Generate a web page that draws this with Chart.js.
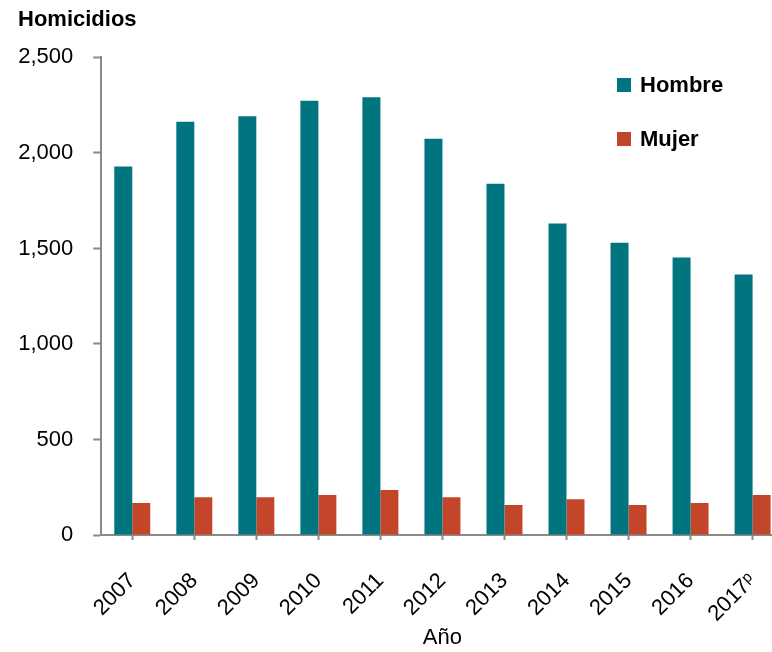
<!DOCTYPE html>
<html>
<head>
<meta charset="utf-8">
<script src="https://cdn.jsdelivr.net/npm/chart.js@4"></script>
<style>
  html, body { margin: 0; padding: 0; background: #fff; overflow: hidden; }
  #wrap { width: 800px; height: 652px; }
</style>
</head>
<body>
<div id="wrap"><canvas id="chart" width="800" height="652"></canvas></div>
<script>
// ---- data ----
const years   = ["2007", "2008", "2009", "2010", "2011", "2012", "2013", "2014", "2015", "2016", "2017ᵖ"];
const hombres = [1929, 2163, 2192, 2273, 2292, 2074, 1838, 1630, 1530, 1452, 1363];
const mujeres = [168, 198, 198, 209, 236, 198, 157, 187, 157, 168, 209];
const yTicks  = [0, 500, 1000, 1500, 2000, 2500];

const FONT = "'Liberation Sans', Arial, Helvetica, sans-serif";
const AXIS = "#8a8a8a";

// legend drawn top-right, stacked
const legendPlugin = {
  id: "stackLegend",
  afterDraw(chart) {
    const ctx = chart.ctx;
    ctx.save();
    ctx.font = "bold 22px " + FONT;
    ctx.textBaseline = "middle";
    chart.data.datasets.forEach((ds, i) => {
      const y = 85 + i * 54;
      ctx.fillStyle = ds.backgroundColor;
      ctx.fillRect(617, y - 7, 14, 14);
      ctx.fillStyle = "#000";
      ctx.fillText(ds.label, 640, y + 1);
    });
    ctx.restore();
  }
};

new Chart(document.getElementById("chart"), {
  type: "bar",
  data: {
    labels: years,
    datasets: [
      { label: "Hombre", data: hombres, backgroundColor: "#00757F" },
      { label: "Mujer",  data: mujeres, backgroundColor: "#C4462A" }
    ]
  },
  options: {
    responsive: false,
    animation: false,
    devicePixelRatio: 1,
    layout: { padding: { left: 18, right: 16, top: 0, bottom: 0 } },
    datasets: { bar: { categoryPercentage: 0.58, barPercentage: 1.0 } },
    plugins: {
      legend: { display: false },
      tooltip: { enabled: false },
      title: {
        display: true,
        text: "Homicidios",
        align: "start",
        color: "#000",
        font: { family: FONT, size: 22, weight: "bold", lineHeight: 1.2 },
        padding: { top: 7, bottom: 24 }
      }
    },
    scales: {
      x: {
        offset: true,
        grid: { display: true, offset: false, drawOnChartArea: false, drawTicks: true, tickLength: 5, tickWidth: 2, tickColor: AXIS },
        border: { display: true, color: AXIS, width: 2 },
        ticks: { color: "#000", font: { family: FONT, size: 22 }, minRotation: 45, maxRotation: 45, padding: 28 },
        title: { display: true, text: "Año", color: "#000", font: { family: FONT, size: 22, lineHeight: 1.2 }, padding: { top: 2, bottom: 1 } },
        afterFit(axis) { axis.height = 117; }
      },
      y: {
        min: 0,
        max: 2500,
        afterBuildTicks(axis) { axis.ticks = yTicks.map(v => ({ value: v })); },
        grid: { display: true, drawOnChartArea: false, drawTicks: true, tickLength: 8, tickWidth: 2, tickColor: AXIS },
        border: { display: true, color: AXIS, width: 2 },
        ticks: {
          color: "#000",
          font: { family: FONT, size: 22 },
          padding: 20,
          callback: v => v.toLocaleString("en-US")
        },
        afterFit(axis) { axis.width = 83.25; }
      }
    }
  },
  plugins: [legendPlugin]
});
</script>
</body>
</html>
